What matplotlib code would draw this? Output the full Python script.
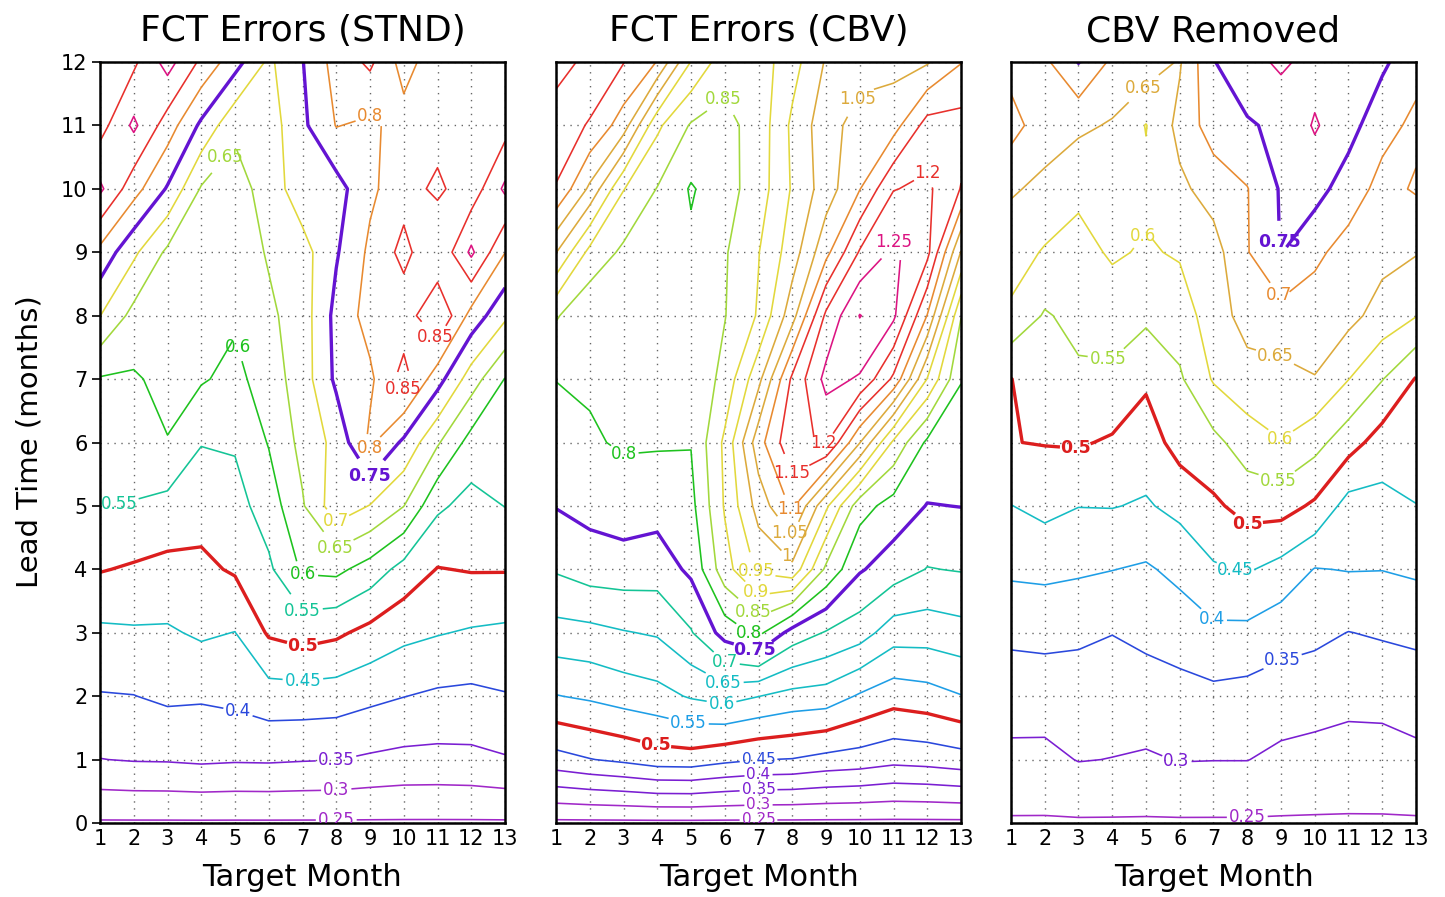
import numpy as np
import matplotlib
matplotlib.use("Agg")
import matplotlib.pyplot as plt

# grid: target month along x, lead time along y
months = list(range(1, 14))
leads = list(range(0, 13))
month_ticks = [str(m) for m in months]
lead_ticks = [str(l) for l in leads]

# forecast errors, one row per lead time (0..12), one column per target month (1..13)
stnd_err = [
    [.245, .245, .245, .245, .245, .245, .245, .245, .245, .245, .245, .245, .245],
    [.349, .353, .354, .358, .355, .356, .353, .351, .343, .337, .336, .338, .346],
    [.397, .399, .409, .406, .413, .428, .428, .425, .412, .401, .392, .389, .397],
    [.440, .444, .444, .457, .449, .506, .520, .509, .485, .463, .453, .445, .440],
    [.503, .494, .486, .489, .506, .541, .607, .612, .579, .532, .498, .503, .503],
    [.551, .548, .535, .520, .532, .573, .645, .730, .698, .651, .559, .533, .551],
    [.574, .570, .598, .552, .555, .603, .665, .715, .810, .740, .656, .580, .575],
    [.596, .594, .615, .605, .586, .625, .675, .760, .790, .870, .770, .675, .598],
    [.701, .634, .630, .630, .607, .640, .675, .765, .820, .820, .900, .782, .710],
    [.786, .710, .640, .640, .620, .655, .680, .745, .810, .865, .805, .910, .801],
    [.910, .820, .745, .645, .628, .672, .730, .730, .790, .830, .860, .820, .910],
    [.830, .910, .826, .740, .660, .675, .740, .802, .790, .820, .830, .820, .830],
    [.798, .840, .920, .840, .770, .690, .748, .820, .860, .780, .830, .820, .820],
]

cbv_err = [
    [.240, .240, .240, .240, .240, .240, .240, .240, .240, .240, .240, .240, .240],
    [.432, .448, .460, .476, .478, .462, .451, .448, .435, .428, .415, .420, .430],
    [.548, .558, .572, .583, .605, .620, .601, .583, .578, .544, .521, .530, .548],
    [.632, .636, .647, .655, .696, .770, .812, .730, .696, .673, .623, .622, .632],
    [.705, .723, .726, .723, .760, .880, .960, .985, .840, .755, .725, .698, .703],
    [.752, .766, .778, .769, .785, .905, 1.02, 1.11, .960, .820, .780, .748, .751],
    [.776, .795, .805, .805, .802, .910, 1.08, 1.19, 1.205, 1.052, .890, .790, .776],
    [.801, .805, .812, .815, .810, .865, .985, 1.16, 1.265, 1.245, 1.14, .948, .802],
    [.855, .810, .822, .825, .815, .848, .905, 1.03, 1.210, 1.302, 1.26, 1.098, .852],
    [1.002, .885, .840, .835, .810, .845, .898, .975, 1.085, 1.205, 1.26, 1.215, .997],
    [1.147, 1.04, .902, .848, .795, .830, .875, .955, 1.025, 1.098, 1.198, 1.21, 1.148],
    [1.18, 1.145, 1.075, .910, .845, .835, .870, .960, 1.03, 1.07, 1.08, 1.17, 1.17],
    [1.215, 1.19, 1.152, 1.098, .948, .870, .875, .930, 1.005, 1.03, 1.035, 1.045, 1.098],
]

removed_err = [
    [.245, .245, .245, .245, .245, .245, .245, .245, .245, .245, .245, .245, .245],
    [.288, .287, .302, .299, .294, .302, .301, .301, .289, .283, .279, .280, .288],
    [.323, .324, .328, .325, .330, .333, .338, .333, .326, .322, .314, .315, .323],
    [.360, .363, .358, .351, .360, .372, .389, .387, .369, .361, .349, .355, .360],
    [.409, .412, .407, .401, .394, .413, .444, .455, .433, .398, .402, .401, .408],
    [.449, .464, .451, .452, .445, .464, .491, .518, .520, .492, .430, .434, .449],
    [.499, .502, .505, .494, .475, .520, .536, .576, .598, .567, .521, .477, .474],
    [.499, .528, .541, .539, .508, .543, .605, .630, .634, .648, .601, .552, .497],
    [.590, .545, .565, .575, .560, .575, .625, .670, .681, .677, .665, .630, .602],
    [.624, .595, .584, .606, .595, .605, .630, .697, .752, .710, .682, .665, .653],
    [.655, .640, .610, .615, .610, .640, .670, .698, .755, .770, .724, .685, .705],
    [.720, .670, .660, .645, .598, .665, .725, .745, .760, .805, .770, .715, .690],
    [.680, .690, .752, .690, .680, .645, .748, .780, .810, .780, .770, .760, .715],
]

titles = ["FCT Errors (STND)", "FCT Errors (CBV)", "CBV Removed"]

# GrADS-like rainbow colours
gc = {2: "#e8302c", 3: "#1ec21e", 4: "#2a48dc", 5: "#14bcc4", 6: "#dc1482",
      7: "#e2d83c", 8: "#e88a30", 9: "#a028c8", 10: "#a2d83c", 11: "#1e9ee6",
      12: "#dcaa3c", 13: "#14c496", 14: "#7a1ed2"}
thick_red = "#dc1e1e"
thick_purple = "#6414d2"

stnd_levels = [0.25, 0.3, 0.35, 0.4, 0.45, 0.55, 0.6, 0.65, 0.7, 0.8, 0.85, 0.9]
stnd_cols = [9, 9, 14, 4, 5, 13, 3, 10, 7, 8, 2, 6]
cbv_levels = [0.25, 0.3, 0.35, 0.4, 0.45, 0.55, 0.6, 0.65, 0.7, 0.8, 0.85, 0.9,
              0.95, 1.0, 1.05, 1.1, 1.15, 1.2, 1.25, 1.3]
cbv_cols = [9, 9, 14, 14, 4, 11, 5, 5, 13, 3, 10, 7, 7, 12, 12, 8, 2, 2, 6, 6]
removed_levels = [0.25, 0.3, 0.35, 0.4, 0.45, 0.55, 0.6, 0.65, 0.7, 0.8]
removed_cols = [9, 14, 4, 11, 5, 10, 7, 12, 8, 6]

# where the contour labels sit (month, lead)
stnd_lab = [(8.0, 0.05), (8.0, 0.52), (8.0, 0.98), (5.0, 1.6), (7.0, 2.3),
            (1.6, 4.95), (7.0, 3.3), (7.0, 3.8), (5.0, 7.5), (7.9, 4.3),
            (4.7, 10.5), (7.9, 4.72), (8.9, 5.8), (8.9, 11.4), (10.9, 7.65),
            (9.9, 6.7)]
stnd_lab_small = []
stnd_lab_thick = [(7.0, 2.8), (8.9, 5.4)]
cbv_lab = [(4.9, 1.52), (5.9, 1.86), (5.9, 2.15), (5.9, 2.47), (6.7, 3.0),
           (2.9, 5.5), (6.8, 3.3), (5.85, 11.5), (6.85, 3.6), (6.8, 3.9),
           (7.9, 4.25), (7.9, 4.57), (10.0, 11.4), (7.8, 4.9), (7.9, 5.5),
           (8.9, 5.9), (11.9, 10.4), (10.9, 9.26)]
cbv_lab_small = [(7.0, 0.03), (7.0, 0.28), (7.0, 0.53), (7.0, 0.78), (7.0, 1.0)]
cbv_lab_thick = [(3.9, 1.13), (6.9, 2.78)]
removed_lab = [(8.0, 0.1), (5.9, 0.97), (8.9, 2.8), (6.9, 3.18), (7.6, 3.89),
               (3.85, 7.23), (8.9, 5.38), (4.8, 9.3), (8.9, 6.0), (4.9, 11.6),
               (8.9, 7.48), (8.9, 8.31)]
removed_lab_small = []
removed_lab_thick = [(2.9, 5.8), (7.9, 4.54), (8.9, 9.16)]

panels = [
    (stnd_err, stnd_levels, stnd_cols, stnd_lab, stnd_lab_small, stnd_lab_thick),
    (cbv_err, cbv_levels, cbv_cols, cbv_lab, cbv_lab_small, cbv_lab_thick),
    (removed_err, removed_levels, removed_cols, removed_lab, removed_lab_small,
     removed_lab_thick),
]


def put_labels(ax, cset, spots, size, bold=False):
    if not spots:
        return
    texts = ax.clabel(cset, fmt="%g", fontsize=size, inline=True,
                      inline_spacing=2, manual=spots)
    for t in texts:
        t.set_rotation(0)
        if bold:
            t.set_fontweight("bold")


W, H = 1445, 897
fig = plt.figure(figsize=(W / 100, H / 100), dpi=100)
lefts = [100, 556, 1011]
ax_w, ax_top, ax_bot = 405, 62, 823

for i, (field, levels, cols, lab, lab_small, lab_thick) in enumerate(panels):
    left = lefts[i]
    ax = fig.add_axes([left / W, 1 - ax_bot / H, ax_w / W, (ax_bot - ax_top) / H])
    z = np.array(field)

    cs = ax.contour(months, leads, z, levels=levels,
                    colors=[gc[c] for c in cols], linewidths=1.15)
    ck = ax.contour(months, leads, z, levels=[0.5, 0.75],
                    colors=[thick_red, thick_purple], linewidths=2.4)

    put_labels(ax, cs, lab, 12)
    put_labels(ax, cs, lab_small, 11)
    put_labels(ax, ck, lab_thick, 12.5, bold=True)

    ax.set_xlim(1, 13)
    ax.set_ylim(0, 12)
    ax.set_xticks(months)
    ax.set_xticklabels(month_ticks, fontsize=15)
    ax.set_yticks(leads)
    if i == 0:
        ax.set_yticklabels(lead_ticks, fontsize=15)
        ax.tick_params(axis="y", length=6, width=1.2, direction="out", pad=3)
    else:
        ax.set_yticklabels([])
        ax.tick_params(axis="y", length=0)
    ax.tick_params(axis="x", length=0, pad=4)
    ax.grid(True, color="#666666", linestyle=(0, (1, 4)), linewidth=1.0)
    for sp in ax.spines.values():
        sp.set_linewidth(1.8)

    cx = (left + ax_w / 2) / W
    fig.text(cx, 1 - 31 / H, titles[i], ha="center", va="center", fontsize=26)
    fig.text(cx, 1 - 877 / H, "Target Month", ha="center", va="center", fontsize=22)

fig.text(30 / W, 1 - 442 / H, "Lead Time (months)", rotation=90,
         ha="center", va="center", fontsize=21)

fig.savefig("out.png", dpi=100)
